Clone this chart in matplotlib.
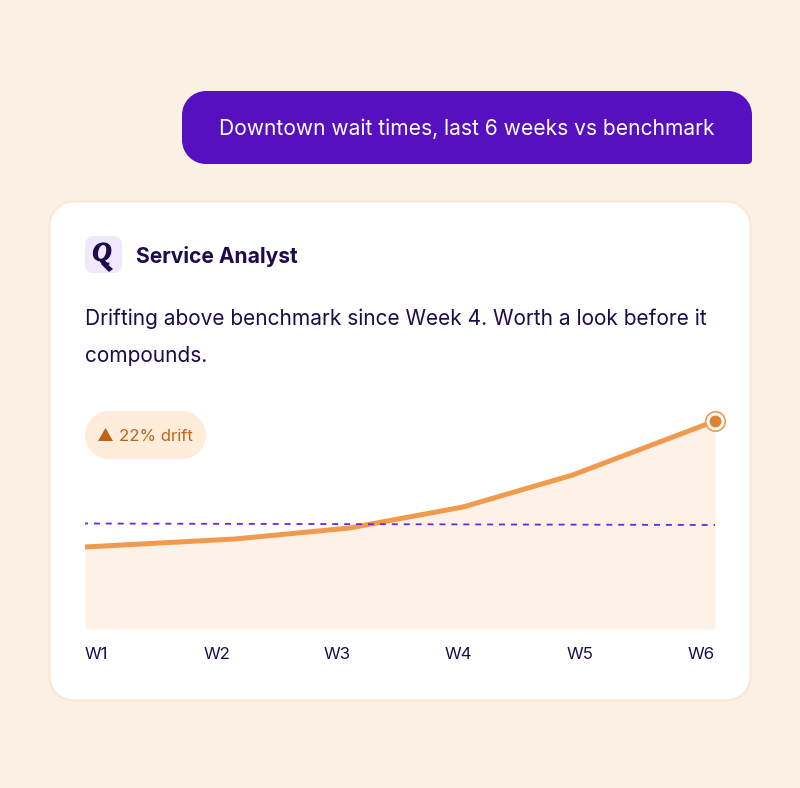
import matplotlib
matplotlib.use("Agg")
import matplotlib.pyplot as plt
import matplotlib.patheffects as pe
from matplotlib.patches import Polygon, PathPatch
from matplotlib.path import Path

weeks = ["W1", "W2", "W3", "W4", "W5", "W6"]
week_pos = [0, 1.19, 2.1, 3.0, 3.87, 5.0]
wait = [82, 90, 101, 122, 154, 208]
benchmark = [105.5, 104]
bench_pos = [0, 5]
label_px = [85, 204, 324, 445, 567, 688]

W, H = 800, 788
BG = "#FBF0E4"
INK = "#1F0A4D"
plt.rcParams['font.family'] = ['Inter', 'DejaVu Sans']

fig = plt.figure(figsize=(W/100, H/100), dpi=100, facecolor=BG)
bg = fig.add_axes([0, 0, 1, 1])
bg.set_xlim(0, W)
bg.set_ylim(H, 0)
bg.axis("off")


def rounded(x0, y0, x1, y1, radii, **kw):
    tl, tr, br, bl = radii
    c = 0.5523
    v = [(x0+tl, y0), (x1-tr, y0),
         (x1-tr+tr*c, y0), (x1, y0+tr-tr*c), (x1, y0+tr),
         (x1, y1-br),
         (x1, y1-br+br*c), (x1-br+br*c, y1), (x1-br, y1),
         (x0+bl, y1),
         (x0+bl-bl*c, y1), (x0, y1-bl+bl*c), (x0, y1-bl),
         (x0, y0+tl),
         (x0, y0+tl-tl*c), (x0+tl-tl*c, y0), (x0+tl, y0),
         (x0+tl, y0)]
    k = [Path.MOVETO, Path.LINETO,
         Path.CURVE4, Path.CURVE4, Path.CURVE4,
         Path.LINETO,
         Path.CURVE4, Path.CURVE4, Path.CURVE4,
         Path.LINETO,
         Path.CURVE4, Path.CURVE4, Path.CURVE4,
         Path.LINETO,
         Path.CURVE4, Path.CURVE4, Path.CURVE4,
         Path.CLOSEPOLY]
    p = PathPatch(Path(v, k), **kw)
    bg.add_patch(p)
    return p


# user bubble
rounded(182, 91, 752, 164, (24, 24, 4, 24), fc="#5710C0", ec="none")
bg.text(466.5, 129, "Downtown wait times, last 6 weeks vs benchmark", color="white",
        fontsize=15.14, ha="center", va="center")

# card
rounded(49.5, 201.5, 750.5, 700.5, (24, 24, 24, 24), fc="white", ec="#F8E8D4", lw=1.6)

# avatar
rounded(85, 236, 122, 273, (8, 8, 8, 8), fc="#F0E8FD", ec="none")
bg.text(102, 254, "Q", color=INK, fontsize=19, fontweight="bold", style="italic",
        family=["Liberation Serif", "DejaVu Serif"], ha="center", va="center",
        path_effects=[pe.withStroke(linewidth=0.9, foreground=INK)])
bg.add_patch(Polygon([(101, 264), (106, 263), (113, 269), (109, 272)], closed=True, fc=INK, ec="none"))

bg.text(136, 256, "Service Analyst", color=INK, fontsize=15.13, fontweight="bold",
        ha="left", va="center")
bg.text(85, 319, "Drifting above benchmark since Week 4. Worth a look before it",
        color=INK, fontsize=15.03, ha="left", va="center")
bg.text(85, 356, "compounds.", color=INK, fontsize=15.03, ha="left", va="center")

# chart
ax = fig.add_axes([85/W, 1-629/H, 630/W, 229/H])
ax.set_xlim(0, 5)
ax.set_ylim(0, 229)
ax.axis("off")
ax.patch.set_alpha(0)
ax.fill_between(week_pos, wait, 0, color="#FEF1E7", lw=0, zorder=1)
ax.plot(bench_pos, benchmark, color="#6A26E0", lw=1.3, linestyle=(1.66, (3.3, 3.3)),
        dash_capstyle="butt", zorder=4)
ax.plot(week_pos, wait, color="#F09A4E", lw=3.6, solid_joinstyle="round",
        solid_capstyle="butt", zorder=3)
ax.plot(week_pos[-1], wait[-1], "o", ms=14, mfc="white", mec="#F09A4E", mew=1.2,
        clip_on=False, zorder=5)
ax.plot(week_pos[-1], wait[-1], "o", ms=8.6, mfc="#DC8433", mec="none",
        clip_on=False, zorder=6)

# badge
rounded(85, 411, 206, 459, (24, 24, 24, 24), fc="#FFECDB", ec="none")
bg.add_patch(Polygon([(98, 441), (113, 441), (105.5, 428)], closed=True, fc="#BC641D", ec="none"))
bg.text(119, 436, "22% drift", color="#BC641D", fontsize=12.1, ha="left", va="center")

# week labels
for name, px in zip(weeks, label_px):
    bg.text(px, 654.5, name, color=INK, fontsize=12.2, ha="left", va="center")

fig.savefig("out.png", dpi=100, facecolor=BG)
